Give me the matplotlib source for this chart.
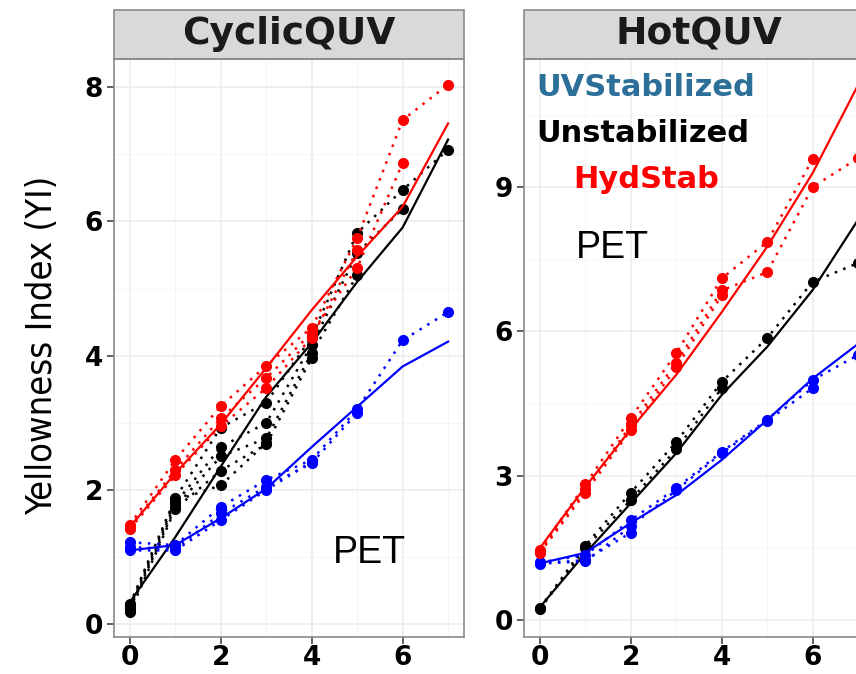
import matplotlib
matplotlib.use('Agg')
import matplotlib.pyplot as plt
from matplotlib.patches import Rectangle
from matplotlib import font_manager
from matplotlib.font_manager import FontProperties

# exposure time points
times = [0, 1, 2, 3, 4, 5, 6, 7]

# CyclicQUV: measured replicates (dotted) and model fit (solid)
cyc_unst_reps = [
    [0.30, 1.88, 2.93, 3.30, 4.28, 5.83, 6.47, 7.07],
    [0.25, 1.80, 2.64, 3.00, 4.16, 5.53, 6.19],
    [0.22, 1.75, 2.50, 2.77, 4.04, 5.20],
    [0.18, 1.72, 2.29, 2.68, 3.97],
    [0.28, 1.84, 2.07, 2.70],
]
cyc_unst_fit = [0.33, 1.30, 2.35, 3.39, 4.19, 5.10, 5.91, 7.22]

cyc_uv_reps = [
    [1.22, 1.18, 1.75, 2.15, 2.45, 3.20, 4.23, 4.65],
    [1.15, 1.12, 1.65, 2.05, 2.40, 3.15],
    [1.10, 1.10, 1.55, 2.00, 2.42],
]
cyc_uv_fit = [1.10, 1.18, 1.58, 2.02, 2.64, 3.24, 3.84, 4.21]

cyc_hyd_reps = [
    [1.48, 2.45, 3.25, 3.85, 4.42, 5.75, 7.51, 8.04],
    [1.45, 2.30, 3.07, 3.67, 4.34, 5.31, 6.87],
    [1.42, 2.22, 2.95, 3.52, 4.27, 5.57],
]
cyc_hyd_fit = [1.45, 2.25, 2.98, 3.82, 4.68, 5.48, 6.22, 7.46]

# HotQUV
hot_unst_reps = [
    [0.25, 1.55, 2.65, 3.70, 4.95, 5.86, 7.03, 7.42],
    [0.23, 1.50, 2.50, 3.55, 4.82],
]
hot_unst_fit = [0.27, 1.39, 2.43, 3.47, 4.68, 5.68, 6.86, 8.32]

hot_uv_reps = [
    [1.20, 1.35, 2.08, 2.74, 3.50, 4.16, 4.99, 5.51],
    [1.18, 1.22, 1.95, 2.70, 3.47, 4.14, 4.82],
    [1.17, 1.25, 1.82],
]
hot_uv_fit = [1.18, 1.40, 2.02, 2.60, 3.33, 4.16, 5.02, 5.74]

hot_hyd_reps = [
    [1.46, 2.82, 4.20, 5.55, 7.10, 7.86, 9.58],
    [1.42, 2.72, 4.05, 5.35, 6.85, 7.23, 9.00, 9.60],
    [1.40, 2.65, 3.95, 5.25, 6.75],
]
hot_hyd_fit = [1.50, 2.77, 3.97, 5.10, 6.40, 7.76, 9.29, 11.12]

legend_labels = ['UVStabilized', 'Unstabilized', 'HydStab']
legend_colors = ['#2c6f98', 'black', 'red']

W, H = 856, 674
fig = plt.figure(figsize=(W / 100, H / 100), dpi=100)

# panel boxes in pixels: left, top, width, height
pw, ph = 350, 578
ax1 = fig.add_axes([114 / W, 1 - (59 + ph) / H, pw / W, ph / H])
ax2 = fig.add_axes([524 / W, 1 - (59 + ph) / H, pw / W, ph / H])

# narrow face for the y title if one is installed
ylab_prop = FontProperties(family='Liberation Sans', size=23)
narrow = [f for f in font_manager.fontManager.ttflist
          if f.stretch in ('condensed', 'semi-condensed')
          and f.style == 'normal' and f.weight in (400, 'normal')
          and 'Sans' in f.name and 'Mono' not in f.name]
narrow.sort(key=lambda f: ('Liberation' not in f.name, 'DejaVu' not in f.name))
if narrow:
    ylab_prop = FontProperties(fname=narrow[0].fname, size=26)


def draw_panel(ax, title, groups, ylim, yticks, yminor):
    for reps, fit, color in groups:
        for rep in reps:
            ax.plot(times[:len(rep)], rep, linestyle=(0, (1, 2.6)), lw=1.8,
                    color=color, marker='o', ms=7, zorder=3)
        ax.plot(times, fit, color=color, lw=1.6, zorder=3)

    ax.set_xlim(-0.35, 7.35)
    ax.set_ylim(*ylim)
    ax.set_xticks([0, 2, 4, 6])
    ax.set_xticks([1, 3, 5, 7], minor=True)
    ax.set_yticks(yticks)
    ax.set_yticks(yminor, minor=True)
    ax.grid(True, which='major', color='#ebebeb', lw=1.1, zorder=0)
    ax.grid(True, which='minor', color='#f4f4f4', lw=0.6, zorder=0)
    ax.set_axisbelow(True)
    for s in ax.spines.values():
        s.set_color('#8a8a8a')
        s.set_linewidth(1.2)
    ax.tick_params(which='major', length=5, width=1.2, color='#444444', pad=3)
    ax.tick_params(axis='x', which='major', pad=1)
    ax.tick_params(which='minor', length=0)
    for lab in ax.get_xticklabels() + ax.get_yticklabels():
        lab.set_fontfamily('DejaVu Sans')
        lab.set_fontweight('bold')
        lab.set_fontsize(19)

    # facet strip on top of the panel
    sh = 49 / ph
    ax.add_patch(Rectangle((0, 1), 1, sh, transform=ax.transAxes,
                           facecolor='#d9d9d9', edgecolor='#8a8a8a', lw=1.2,
                           clip_on=False))
    ax.text(0.5, 1 + sh / 2, title, transform=ax.transAxes, ha='center',
            va='center', fontsize=27, fontweight='bold', family='DejaVu Sans',
            color='#1a1a1a')


draw_panel(ax1, 'CyclicQUV',
           [(cyc_unst_reps, cyc_unst_fit, 'black'),
            (cyc_uv_reps, cyc_uv_fit, 'blue'),
            (cyc_hyd_reps, cyc_hyd_fit, 'red')],
           (-0.19, 8.42), [0, 2, 4, 6, 8], [1, 3, 5, 7])
draw_panel(ax2, 'HotQUV',
           [(hot_unst_reps, hot_unst_fit, 'black'),
            (hot_uv_reps, hot_uv_fit, 'blue'),
            (hot_hyd_reps, hot_hyd_fit, 'red')],
           (-0.35, 11.66), [0, 3, 6, 9], [1.5, 4.5, 7.5, 10.5])

ax1.text(5.26, 1.06, 'PET', ha='center', va='center', fontsize=27,
         family='Liberation Sans')
ax2.text(1.6, 7.73, 'PET', ha='center', va='center', fontsize=27,
         family='Liberation Sans')

# group labels written inside the HotQUV panel
label_pos = [(-0.07, 11.06), (-0.07, 10.12), (0.73, 9.15)]
for (x, y), txt, c in zip(label_pos, legend_labels, legend_colors):
    ax2.text(x, y, txt, color=c, ha='left', va='center', fontsize=22,
             fontweight='bold', family='DejaVu Sans')

fig.text(42 / W, 1 - 345 / H, 'Yellowness Index (YI)', rotation=90,
         ha='center', va='center', fontproperties=ylab_prop)

fig.savefig('out.png', dpi=100)
